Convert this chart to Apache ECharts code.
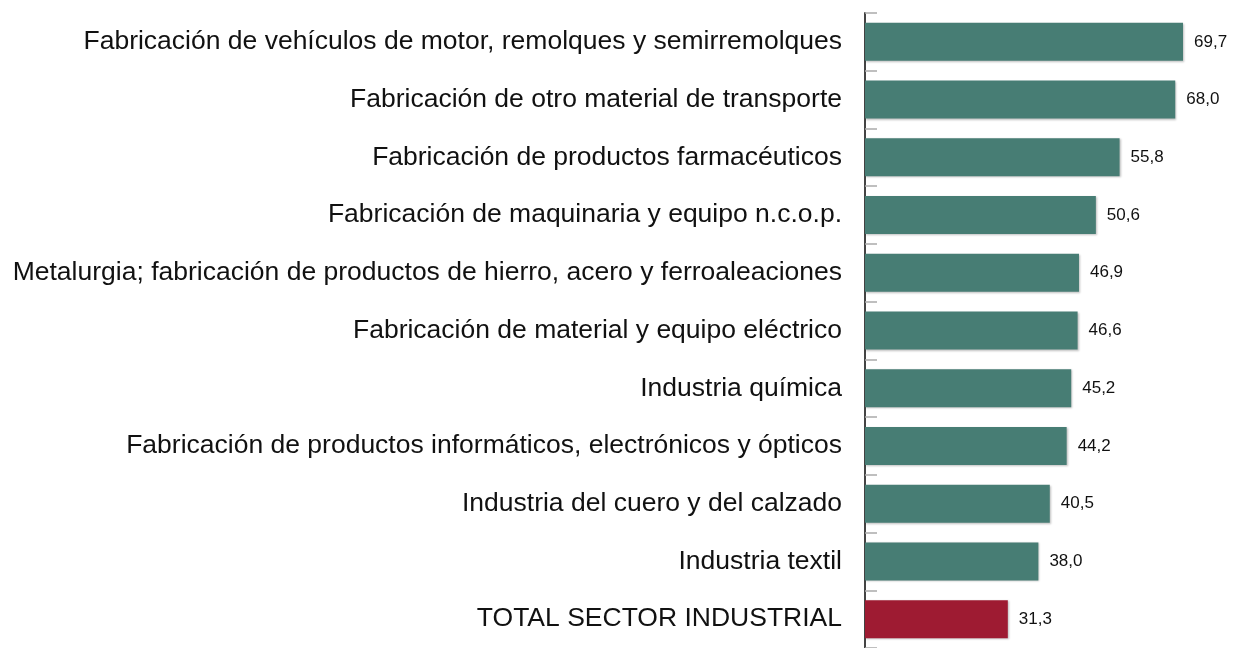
<!DOCTYPE html>
<html>
<head>
<meta charset="utf-8">
<script src="https://cdn.jsdelivr.net/npm/echarts@6/dist/echarts.min.js"></script>
<style>
html, body { margin: 0; padding: 0; background: #fff; }
#chart { width: 1237px; height: 648px; }
</style>
</head>
<body>
<div id="chart"></div>
<script>
const sectors = [
	'Fabricación de vehículos de motor, remolques y semirremolques',
	'Fabricación de otro material de transporte',
	'Fabricación de productos farmacéuticos',
	'Fabricación de maquinaria y equipo n.c.o.p.',
	'Metalurgia; fabricación de productos de hierro, acero y ferroaleaciones',
	'Fabricación de material y equipo eléctrico',
	'Industria química',
	'Fabricación de productos informáticos, electrónicos y ópticos',
	'Industria del cuero y del calzado',
	'Industria textil',
	'TOTAL SECTOR INDUSTRIAL'
]
const values = [69.7, 68.0, 55.8, 50.6, 46.9, 46.6, 45.2, 44.2, 40.5, 38.0, 31.3]
const totalName = 'TOTAL SECTOR INDUSTRIAL'

const green = '#477d74'
const red = '#9e1b32'

const chart = echarts.init(document.getElementById('chart'))
chart.setOption({
	animation: false,
	grid: {
		left: 865,
		top: 13,
		width: 365,
		height: 641,
	},
	xAxis: {
		type: 'value',
		min: 0,
		max: 80,
		show: false,
	},
	yAxis: {
		type: 'category',
		inverse: true,
		data: sectors,
		axisLine: {
			show: true,
			lineStyle: { color: '#444', width: 2 },
		},
		axisTick: {
			show: true,
			inside: true,
			length: 12,
			lineStyle: { color: '#aaa', width: 1.5 },
		},
		axisLabel: {
			margin: 23,
			fontFamily: 'Liberation Sans, Arial',
			fontSize: 26.5,
			color: '#111',
		},
	},
	series: [
		{
			type: 'bar',
			barWidth: 38,
			data: values.map((v, i) => ({
				value: v,
				itemStyle: { color: sectors[i] === totalName ? red : green },
			})),
			itemStyle: {
				shadowColor: 'rgba(0,0,0,0.25)',
				shadowBlur: 2,
				shadowOffsetX: 1,
				shadowOffsetY: 1,
			},
			label: {
				show: true,
				position: 'right',
				distance: 11,
				fontFamily: 'Liberation Sans, Arial',
				fontSize: 17,
				color: '#111',
				formatter: (p) => p.value.toFixed(1).replace('.', ','),
			},
		},
	],
})
</script>
</body>
</html>
